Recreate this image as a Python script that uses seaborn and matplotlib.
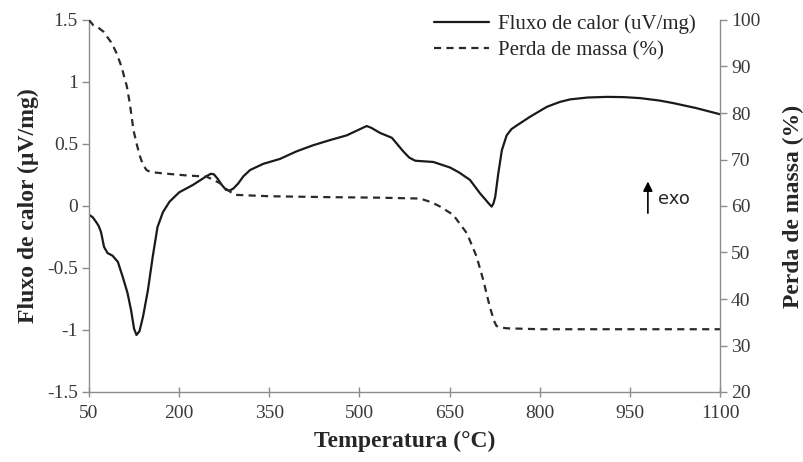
import matplotlib
matplotlib.use("Agg")
import matplotlib.pyplot as plt
from matplotlib.lines import Line2D
import pandas as pd
import seaborn as sns

# Heat flow curve (DTA)
temp_flux = [50, 56, 62, 66, 70, 75, 81, 89, 98, 106, 114, 120, 125, 129, 134, 140,
             148, 156, 164, 173, 184, 200, 223, 239, 247, 253, 258, 264, 271, 278,
             284, 290, 298, 307, 318, 340, 368, 395, 423, 450, 479, 501, 512, 520,
             534, 554, 573, 583, 593, 623, 651, 666, 684, 701, 710, 717, 720, 723,
             726, 731, 737, 745, 753, 762, 784, 812, 834, 851, 880, 912, 940, 967,
             1000, 1022, 1060, 1092, 1100]
flux = [-0.07, -0.09, -0.13, -0.16, -0.21, -0.33, -0.38, -0.40, -0.45, -0.57, -0.70,
        -0.84, -0.99, -1.04, -1.01, -0.89, -0.68, -0.41, -0.17, -0.05, 0.035, 0.11,
        0.17, 0.22, 0.245, 0.26, 0.255, 0.22, 0.17, 0.13, 0.125, 0.14, 0.18, 0.24,
        0.29, 0.34, 0.38, 0.44, 0.49, 0.53, 0.57, 0.62, 0.645, 0.63, 0.59, 0.55,
        0.44, 0.39, 0.365, 0.355, 0.31, 0.27, 0.21, 0.10, 0.05, 0.01, -0.005, 0.02,
        0.075, 0.26, 0.45, 0.57, 0.62, 0.65, 0.72, 0.80, 0.84, 0.86, 0.875, 0.88,
        0.878, 0.87, 0.85, 0.83, 0.79, 0.75, 0.74]

# Mass loss curve (TG)
temp_mass = [50, 57, 66, 74, 88, 96, 104, 113, 118, 124, 130, 135, 140, 146, 153,
             160, 174, 210, 246, 257, 268, 280, 293, 350, 450, 529, 601, 620, 634,
             656, 679, 695, 706, 717, 724, 728, 735, 745, 800, 1100]
mass = [100, 98.9, 98.3, 97.5, 95, 92.8, 90, 85.7, 82, 76.3, 73.0, 70.6, 68.8,
        67.7, 67.3, 67.2, 67.0, 66.6, 66.3, 65.6, 64.9, 63.5, 62.4, 62.1, 61.9,
        61.8, 61.6, 60.8, 59.9, 58.1, 54.1, 49.1, 44.1, 38.3, 35.3, 34.2, 33.9,
        33.7, 33.5, 33.5]

x_ticks = [50, 200, 350, 500, 650, 800, 950, 1100]
y1_ticks = [-1.5, -1, -0.5, 0, 0.5, 1, 1.5]
y1_labels = ["-1.5", "-1", "-0.5", "0", "0.5", "1", "1.5"]
y2_ticks = [20, 30, 40, 50, 60, 70, 80, 90, 100]

sns.set_style("white")
plt.rcParams["font.family"] = ["Liberation Serif", "DejaVu Serif"]

df_flux = pd.DataFrame({"T": temp_flux, "v": flux})
df_mass = pd.DataFrame({"T": temp_mass, "m": mass})

fig = plt.figure(figsize=(8.04, 4.62), dpi=100)
ax = fig.add_axes([89 / 804, 1 - 392 / 462, (720 - 89) / 804, (392 - 20) / 462])
ax2 = ax.twinx()

sns.lineplot(data=df_flux, x="T", y="v", ax=ax, color="#1a1a1a", lw=1.6,
             sort=False, legend=False)
sns.lineplot(data=df_mass, x="T", y="m", ax=ax2, color="#2a2a2a", lw=1.6,
             sort=False, legend=False)
ax.lines[0].set_solid_joinstyle("round")
ax2.lines[0].set_dashes([3.2, 2.4])

spine_c = "#8c8c8c"
tick_c = "#3a3a3a"
for a in (ax, ax2):
    for s in a.spines.values():
        s.set_color(spine_c)
        s.set_linewidth(1.0)
    a.spines["top"].set_visible(False)
ax.spines["right"].set_visible(False)
ax2.spines["left"].set_visible(False)
ax2.spines["bottom"].set_visible(False)

ax.set_xlim(50, 1100)
ax.set_ylim(-1.5, 1.5)
ax2.set_ylim(20, 100)
ax.set_xticks(x_ticks)
ax.set_yticks(y1_ticks)
ax.set_yticklabels(y1_labels)
ax2.set_yticks(y2_ticks)

ax.tick_params(axis="x", direction="inout", length=7, width=1, color=spine_c,
               labelsize=14, labelcolor=tick_c, pad=6, bottom=True)
ax.tick_params(axis="y", direction="out", length=5, width=1, color=spine_c,
               labelsize=14, labelcolor=tick_c, pad=3, left=True)
ax2.tick_params(axis="y", direction="out", length=5, width=1, color=spine_c,
                labelsize=14, labelcolor=tick_c, pad=3, right=True)

ax.set_xlabel("Temperatura (°C)", fontsize=17, fontweight="bold", labelpad=6)
ax.set_ylabel("Fluxo de calor (µV/mg)", fontsize=17, fontweight="bold", labelpad=6)
ax2.set_ylabel("Perda de massa (%)", fontsize=17, fontweight="bold", labelpad=16)

handles = [Line2D([], [], color="#1a1a1a", lw=1.6),
           Line2D([], [], color="#2a2a2a", lw=1.6, dashes=[3.2, 2.4])]
ax2.legend(handles, ["Fluxo de calor (uV/mg)", "Perda de massa (%)"],
           loc="upper right", bbox_to_anchor=(0.991, 1.065), frameon=False,
           fontsize=15, handlelength=2.65, handletextpad=0.4, labelspacing=0.3)

ax.annotate("", xy=(980, 0.22), xytext=(980, -0.08),
            arrowprops=dict(arrowstyle="-|>", color="black", lw=1.2,
                            mutation_scale=14))
ax.text(997, 0.06, "exo", fontsize=13, va="center", ha="left",
        family=["DejaVu Sans"])

fig.savefig("out.png", dpi=100)
